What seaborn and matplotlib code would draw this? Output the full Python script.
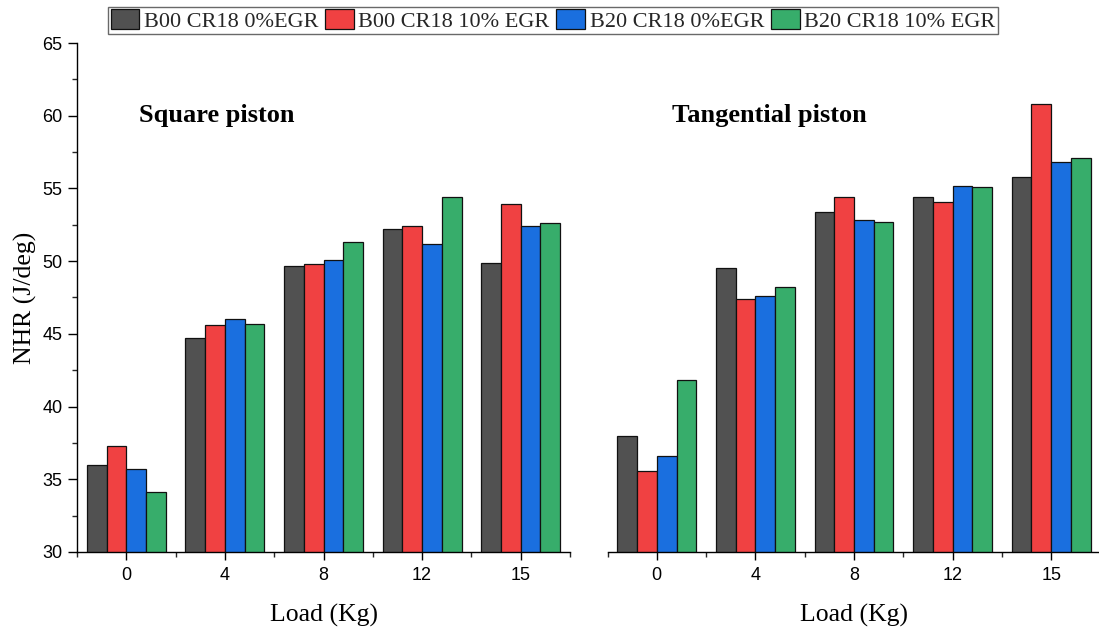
import numpy as np
import pandas as pd
import matplotlib
matplotlib.use("Agg")
import matplotlib.pyplot as plt
from matplotlib.patches import Patch
from matplotlib.ticker import FixedLocator, MultipleLocator
import seaborn as sns

# Engine load levels (kg)
loads = ["0", "4", "8", "12", "15"]

# Fuel / compression ratio / EGR configurations
series = ["B00 CR18 0%EGR", "B00 CR18 10% EGR", "B20 CR18 0%EGR", "B20 CR18 10% EGR"]

# Net heat release rate (J/deg), square piston
square_b00_0egr = [36.0, 44.7, 49.7, 52.2, 49.9]
square_b00_10egr = [37.3, 45.6, 49.8, 52.4, 53.9]
square_b20_0egr = [35.7, 46.0, 50.1, 51.2, 52.4]
square_b20_10egr = [34.1, 45.7, 51.3, 54.4, 52.6]

# Net heat release rate (J/deg), tangential piston
tang_b00_0egr = [38.0, 49.5, 53.4, 54.4, 55.8]
tang_b00_10egr = [35.6, 47.4, 54.4, 54.1, 60.8]
tang_b20_0egr = [36.6, 47.6, 52.8, 55.2, 56.8]
tang_b20_10egr = [41.8, 48.2, 52.7, 55.1, 57.1]

colors = ["#515151", "#F04142", "#1A6FDF", "#37AD6B"]


def long_table(columns):
    rows = []
    for name, vals in zip(series, columns):
        for load, v in zip(loads, vals):
            rows.append({"Load": load, "Config": name, "NHR": v})
    return pd.DataFrame(rows)


square_df = long_table([square_b00_0egr, square_b00_10egr, square_b20_0egr, square_b20_10egr])
tang_df = long_table([tang_b00_0egr, tang_b00_10egr, tang_b20_0egr, tang_b20_10egr])

sns.set_theme(style="white")
plt.rcParams["font.family"] = ["Liberation Sans", "DejaVu Sans"]

serif = ["Liberation Serif", "DejaVu Serif"]

fig = plt.figure(figsize=(10.99, 6.27), dpi=100)
W, H = 1099, 627
ax_l = fig.add_axes([77 / W, (H - 552) / H, 493 / W, 509 / H])
ax_r = fig.add_axes([607.5 / W, (H - 552) / H, 493 / W, 509 / H])

for ax, df, title, tx in [
    (ax_l, square_df, "Square piston", 0.126),
    (ax_r, tang_df, "Tangential piston", 0.131),
]:
    sns.barplot(
        data=df, x="Load", y="NHR", hue="Config", order=loads, hue_order=series,
        palette=colors, width=0.8, edgecolor="#111111", linewidth=0.9,
        saturation=1, errorbar=None, legend=False, ax=ax,
    )
    ax.set_xlim(-0.5, 4.5)
    ax.set_ylim(30, 65)
    ax.set_xlabel("Load (Kg)", fontsize=18.5, family=serif, labelpad=14, color="black")
    ax.xaxis.set_minor_locator(FixedLocator(np.arange(-0.5, 4.6, 1.0)))
    ax.tick_params(axis="x", which="major", direction="out", length=6, width=1.0,
                   labelsize=13, pad=5, colors="black", bottom=True)
    ax.tick_params(axis="x", which="minor", direction="out", length=3.5, width=1.0,
                   bottom=True)
    for s in ["top", "right"]:
        ax.spines[s].set_visible(False)
    ax.spines["bottom"].set_color("black")
    ax.spines["bottom"].set_linewidth(1.0)
    ax.text(tx, 0.858, title, transform=ax.transAxes, fontsize=19, fontweight="bold",
            family=serif, ha="left", va="center", color="black")

# Left panel carries the shared y axis
ax_l.set_ylabel("NHR (J/deg)", fontsize=18.5, family=serif, labelpad=4, color="black")
ax_l.yaxis.set_major_locator(MultipleLocator(5))
ax_l.yaxis.set_minor_locator(MultipleLocator(2.5))
ax_l.tick_params(axis="y", which="major", direction="out", length=6.5, width=1.0,
                 labelsize=13, pad=4, colors="black", left=True)
ax_l.tick_params(axis="y", which="minor", direction="out", length=3.5, width=1.0, left=True)
ax_l.spines["left"].set_color("black")
ax_l.spines["left"].set_linewidth(1.0)

# Right panel: no y axis drawn
ax_r.spines["left"].set_visible(False)
ax_r.set_ylabel("")
ax_r.tick_params(axis="y", which="both", left=False, labelleft=False)

handles = [Patch(facecolor=c, edgecolor="#111111", linewidth=0.9) for c in colors]
leg = fig.legend(
    handles, series, loc="center", bbox_to_anchor=(553 / W, 1 - 20.5 / H), ncol=4,
    frameon=True, fancybox=False, prop={"family": serif, "size": 16},
    handlelength=1.3, handleheight=0.95, handletextpad=0.2, columnspacing=0.3,
    borderpad=0.12, borderaxespad=0,
)
leg.get_frame().set_edgecolor("#444444")
leg.get_frame().set_linewidth(1.0)

fig.savefig("out.png", dpi=100)
